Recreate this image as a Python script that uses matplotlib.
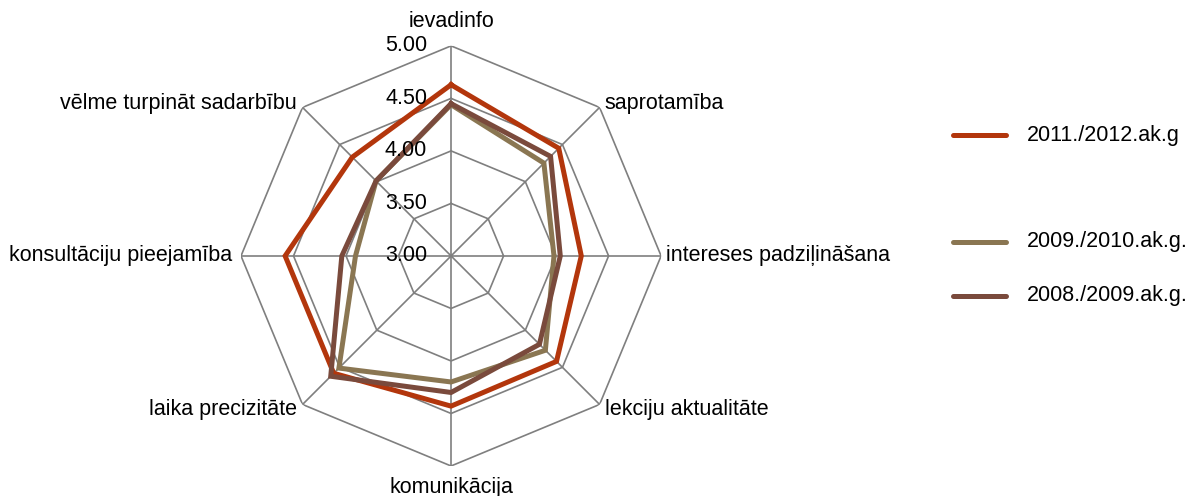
import matplotlib.pyplot as plt
import matplotlib.transforms as mtrans
import numpy as np
from matplotlib.lines import Line2D

plt.rcParams['font.family'] = ['Liberation Sans', 'DejaVu Sans']

categories = ['ievadinfo', 'saprotamība', 'intereses padziļināšana', 'lekciju aktualitāte',
              'komunikācija', 'laika precizitāte', 'konsultāciju pieejamība', 'vēlme turpināt sadarbību']
s2011 = [4.63, 4.45, 4.24, 4.42, 4.43, 4.58, 4.58, 4.33]
s2009 = [4.44, 4.25, 3.98, 4.27, 4.20, 4.51, 3.91, 4.01]
s2008 = [4.45, 4.34, 4.04, 4.19, 4.30, 4.62, 4.04, 4.01]
series_names = ['2011./2012.ak.g', '2009./2010.ak.g.', '2008./2009.ak.g.']
ticks = [3.0, 3.5, 4.0, 4.5, 5.0]

colors = ['#B3360C', '#8A7652', '#7A4A3C']
fs = 15.5

fig = plt.figure(figsize=(11.87, 4.96), dpi=100)
ax = fig.add_axes([0.203, 0.0605, 0.354, 0.847], projection='polar')
ax.set_theta_zero_location('N')
ax.set_theta_direction(-1)
ax.set_ylim(3, 5)
ax.grid(False)
ax.spines['polar'].set_visible(False)
ax.set_xticks([])
ax.set_yticks([])

n = len(categories)
angles = np.arange(n) * 2 * np.pi / n
closed = np.append(angles, angles[0])

# polygon grid
for t in ticks:
    ax.plot(closed, [t] * (n + 1), color='#7f7f7f', lw=1.2, zorder=1)
for a in angles:
    ax.plot([a, a], [3, 5], color='#7f7f7f', lw=1.2, zorder=1)

for vals, c in zip([s2011, s2009, s2008], colors):
    ax.plot(closed, vals + vals[:1], color=c, lw=3.6, solid_joinstyle='miter', zorder=3)

# radial tick labels
tick_tr = ax.transData + mtrans.ScaledTranslation(-0.24, 0, fig.dpi_scale_trans)
for t in ticks:
    ax.text(0, t, f'{t:.2f}', ha='right', va='center', fontsize=fs, transform=tick_tr)

# category labels
offs = [('center', 'center', 0, 0.24), ('left', 'center', 0.05, 0.04), ('left', 'center', 0.05, 0.0),
        ('left', 'center', 0.05, -0.05), ('center', 'center', 0, -0.22), ('right', 'center', -0.06, -0.05),
        ('right', 'center', -0.09, 0.0), ('right', 'center', -0.06, 0.04)]
for a, name, (ha, va, dx, dy) in zip(angles, categories, offs):
    tr = ax.transData + mtrans.ScaledTranslation(dx, dy, fig.dpi_scale_trans)
    ax.text(a, 5.0, name, ha=ha, va=va, fontsize=fs, transform=tr, clip_on=False)

# legend
leg_y = [135, 242, 296]
for y, name, c in zip(leg_y, series_names, colors):
    fy = 1 - y / 496
    fig.add_artist(Line2D([953 / 1187, 1006 / 1187], [fy, fy], color=c, lw=3.6,
                          solid_capstyle='round', transform=fig.transFigure))
    fig.text(1027 / 1187, fy, name, ha='left', va='center', fontsize=fs)

fig.savefig('out.png', dpi=100)
